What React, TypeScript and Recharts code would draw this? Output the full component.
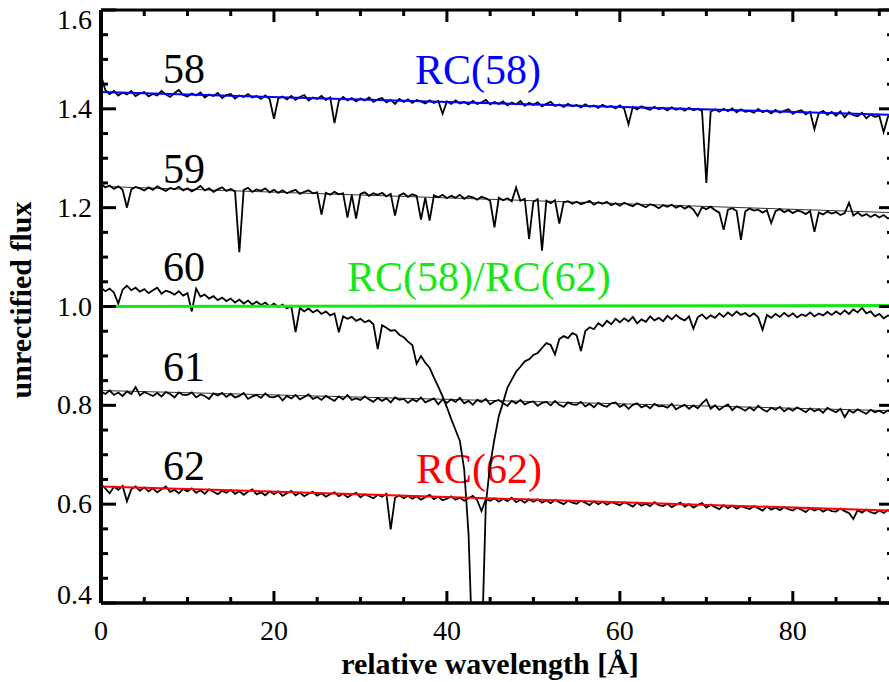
import React from 'react';
import { LineChart, Line, XAxis, YAxis } from 'recharts';

// spectra are sampled every 0.5 Å starting at 0
const STEP = 0.5;

const flux58 = [
  1.468, 1.438, 1.430, 1.436, 1.427, 1.433, 1.429, 1.436, 1.426, 1.431,
  1.434, 1.425, 1.430, 1.427, 1.436, 1.429, 1.424, 1.432, 1.438, 1.428,
  1.425, 1.431, 1.427, 1.433, 1.423, 1.429, 1.426, 1.432, 1.422, 1.428,
  1.430, 1.421, 1.427, 1.424, 1.430, 1.423, 1.426, 1.420, 1.427, 1.420,
  1.380, 1.421, 1.425, 1.419, 1.426, 1.418, 1.424, 1.428, 1.417, 1.423,
  1.420, 1.426, 1.418, 1.423, 1.371, 1.416, 1.424, 1.417, 1.422, 1.415,
  1.421, 1.417, 1.423, 1.414, 1.419, 1.422, 1.413, 1.418, 1.410, 1.420,
  1.414, 1.419, 1.412, 1.418, 1.415, 1.411, 1.417, 1.412, 1.416, 1.390,
  1.415, 1.410, 1.417, 1.411, 1.414, 1.409, 1.416, 1.410, 1.413, 1.418,
  1.409, 1.414, 1.410, 1.415, 1.407, 1.413, 1.409, 1.416, 1.406, 1.412,
  1.408, 1.413, 1.405, 1.410, 1.414, 1.406, 1.409, 1.404, 1.410, 1.405,
  1.408, 1.403, 1.409, 1.404, 1.407, 1.402, 1.408, 1.403, 1.406, 1.401,
  1.407, 1.400, 1.369, 1.404, 1.399, 1.405, 1.401, 1.398, 1.404, 1.399,
  1.402, 1.397, 1.403, 1.398, 1.401, 1.396, 1.402, 1.397, 1.400, 1.396,
  1.250, 1.394, 1.399, 1.394, 1.400, 1.395, 1.401, 1.393, 1.399, 1.394,
  1.396, 1.392, 1.400, 1.393, 1.397, 1.391, 1.398, 1.392, 1.396, 1.399,
  1.390, 1.395, 1.397, 1.389, 1.394, 1.359, 1.391, 1.396, 1.388, 1.394,
  1.386, 1.395, 1.383, 1.393, 1.387, 1.385, 1.392, 1.381, 1.388, 1.384,
  1.386, 1.353, 1.384, 1.389,
];

const flux59 = [
  1.249, 1.241, 1.245, 1.238, 1.243, 1.236, 1.200, 1.237, 1.242, 1.239,
  1.235, 1.241, 1.236, 1.243, 1.238, 1.234, 1.240, 1.237, 1.242, 1.235,
  1.239, 1.233, 1.238, 1.244, 1.235, 1.239, 1.232, 1.237, 1.241, 1.234,
  1.238, 1.233, 1.110, 1.236, 1.240, 1.232, 1.237, 1.234, 1.239, 1.231,
  1.236, 1.230, 1.235, 1.229, 1.233, 1.236, 1.228, 1.232, 1.235, 1.229,
  1.231, 1.186, 1.230, 1.226, 1.232, 1.227, 1.229, 1.180, 1.226, 1.178,
  1.228, 1.231, 1.224, 1.229, 1.226, 1.230, 1.223, 1.228, 1.184, 1.225,
  1.229, 1.222, 1.227, 1.224, 1.176, 1.220, 1.174, 1.225, 1.221, 1.226,
  1.219, 1.224, 1.220, 1.226, 1.218, 1.223, 1.221, 1.216, 1.222, 1.219,
  1.214, 1.160, 1.220, 1.215, 1.219, 1.213, 1.241, 1.214, 1.218, 1.137,
  1.212, 1.217, 1.113, 1.214, 1.209, 1.215, 1.168, 1.211, 1.213, 1.208,
  1.212, 1.207, 1.210, 1.214, 1.206, 1.211, 1.208, 1.212, 1.205, 1.209,
  1.204, 1.210, 1.206, 1.203, 1.209, 1.205, 1.201, 1.207, 1.204, 1.199,
  1.205, 1.202, 1.206, 1.200, 1.204, 1.198, 1.203, 1.196, 1.183, 1.201,
  1.197, 1.202, 1.195, 1.190, 1.155, 1.196, 1.199, 1.193, 1.135, 1.192,
  1.198, 1.194, 1.196, 1.190, 1.195, 1.169, 1.193, 1.197, 1.191, 1.195,
  1.189, 1.194, 1.192, 1.187, 1.193, 1.151, 1.190, 1.186, 1.192, 1.188,
  1.191, 1.185, 1.189, 1.210, 1.184, 1.190, 1.183, 1.187, 1.181, 1.186,
  1.180, 1.185, 1.178, 1.183,
];

const flux60 = [
  1.038, 1.031, 1.036, 1.028, 1.006, 1.034, 1.042, 1.033, 1.038, 1.030,
  1.035, 1.027, 1.033, 1.038, 1.026, 1.032, 1.029, 1.024, 1.031, 1.022,
  1.027, 0.990, 1.036, 1.020, 1.024, 1.016, 1.021, 1.013, 1.018, 1.011,
  1.016, 1.008, 1.014, 1.006, 1.012, 1.004, 1.010, 1.003, 1.008, 1.000,
  1.006, 0.999, 1.004, 0.996, 1.001, 0.948, 0.997, 0.990, 0.996, 0.988,
  0.993, 0.985, 0.990, 0.982, 0.986, 0.948, 0.980, 0.975, 0.979, 0.971,
  0.975, 0.968, 0.972, 0.964, 0.914, 0.962, 0.957, 0.951, 0.952, 0.943,
  0.938, 0.929, 0.922, 0.884, 0.900, 0.886, 0.876, 0.856, 0.838, 0.818,
  0.796, 0.772, 0.750, 0.728, 0.670, 0.540, 0.280, 0.200, 0.290, 0.600,
  0.680, 0.732, 0.778, 0.806, 0.836, 0.852, 0.868, 0.878, 0.889, 0.893,
  0.902, 0.906, 0.916, 0.926, 0.922, 0.903, 0.934, 0.940, 0.936, 0.946,
  0.942, 0.910, 0.950, 0.958, 0.954, 0.966, 0.960, 0.971, 0.964, 0.975,
  0.968, 0.976, 0.970, 0.979, 0.966, 0.974, 0.969, 0.980, 0.972, 0.977,
  0.970, 0.981, 0.974, 0.983, 0.976, 0.972, 0.980, 0.955, 0.978, 0.984,
  0.975, 0.982, 0.977, 0.986, 0.979, 0.988, 0.981, 0.990, 0.983, 0.987,
  0.980, 0.986, 0.978, 0.953, 0.983, 0.977, 0.985, 0.979, 0.987, 0.980,
  0.986, 0.978, 0.984, 0.981, 0.988, 0.980, 0.986, 0.982, 0.989, 0.983,
  0.990, 0.984, 0.992, 0.985, 0.994, 0.988, 0.997, 0.986, 0.990, 0.980,
  0.985, 0.976, 0.982, 0.979,
];

const flux61 = [
  0.828, 0.823, 0.830, 0.821, 0.826, 0.819, 0.828, 0.823, 0.837, 0.820,
  0.827, 0.823, 0.819, 0.825, 0.818, 0.827, 0.823, 0.816, 0.826, 0.821,
  0.821, 0.826, 0.816, 0.822, 0.819, 0.813, 0.824, 0.820, 0.825, 0.817,
  0.823, 0.816, 0.819, 0.825, 0.813, 0.818, 0.821, 0.815, 0.824, 0.817,
  0.816, 0.820, 0.810, 0.819, 0.814, 0.821, 0.812, 0.817, 0.822, 0.813,
  0.817, 0.811, 0.819, 0.814, 0.809, 0.818, 0.812, 0.821, 0.811, 0.814,
  0.811, 0.818, 0.812, 0.807, 0.815, 0.809, 0.814, 0.806, 0.816, 0.811,
  0.813, 0.805, 0.812, 0.808, 0.816, 0.806, 0.810, 0.814, 0.802, 0.812,
  0.805, 0.812, 0.807, 0.815, 0.804, 0.809, 0.801, 0.811, 0.807, 0.813,
  0.802, 0.808, 0.811, 0.804, 0.799, 0.809, 0.804, 0.811, 0.802, 0.806,
  0.808, 0.799, 0.805, 0.807, 0.800, 0.809, 0.801, 0.797, 0.806, 0.802,
  0.801, 0.807, 0.798, 0.803, 0.796, 0.805, 0.800, 0.797, 0.804, 0.806,
  0.797, 0.802, 0.793, 0.801, 0.804, 0.796, 0.800, 0.794, 0.803, 0.798,
  0.799, 0.795, 0.803, 0.792, 0.797, 0.801, 0.793, 0.800, 0.794, 0.804,
  0.812, 0.793, 0.800, 0.791, 0.797, 0.802, 0.790, 0.798, 0.794, 0.789,
  0.796, 0.790, 0.799, 0.792, 0.787, 0.795, 0.791, 0.797, 0.788, 0.794,
  0.789, 0.796, 0.791, 0.786, 0.794, 0.788, 0.792, 0.785, 0.795, 0.790,
  0.786, 0.793, 0.776, 0.790, 0.785, 0.792, 0.787, 0.783, 0.791, 0.786,
  0.789, 0.784, 0.790, 0.783,
];

const flux62 = [
  0.640, 0.632, 0.622, 0.635, 0.629, 0.637, 0.606, 0.630, 0.636, 0.627,
  0.634, 0.626, 0.632, 0.624, 0.630, 0.636, 0.625, 0.629, 0.622, 0.631,
  0.626, 0.632, 0.623, 0.628, 0.621, 0.630, 0.625, 0.620, 0.627, 0.623,
  0.629, 0.621, 0.626, 0.619, 0.625, 0.630, 0.620, 0.624, 0.618, 0.626,
  0.620, 0.626, 0.617, 0.622, 0.627, 0.618, 0.623, 0.616, 0.621, 0.625,
  0.617, 0.622, 0.615, 0.620, 0.624, 0.616, 0.621, 0.614, 0.619, 0.623,
  0.614, 0.620, 0.616, 0.612, 0.619, 0.615, 0.621, 0.549, 0.613, 0.618,
  0.612, 0.617, 0.611, 0.616, 0.609, 0.614, 0.619, 0.610, 0.615, 0.608,
  0.611, 0.616, 0.609, 0.613, 0.607, 0.612, 0.617, 0.608, 0.586, 0.610,
  0.607, 0.612, 0.605, 0.611, 0.606, 0.613, 0.604, 0.609, 0.603, 0.610,
  0.605, 0.610, 0.603, 0.608, 0.602, 0.609, 0.604, 0.600, 0.607, 0.603,
  0.601, 0.607, 0.603, 0.598, 0.606, 0.600, 0.605, 0.599, 0.604, 0.601,
  0.598, 0.604, 0.600, 0.595, 0.603, 0.597, 0.601, 0.596, 0.604, 0.598,
  0.596, 0.601, 0.594, 0.599, 0.603, 0.595, 0.600, 0.593, 0.598, 0.602,
  0.593, 0.599, 0.594, 0.590, 0.598, 0.592, 0.597, 0.591, 0.596, 0.593,
  0.590, 0.596, 0.592, 0.587, 0.595, 0.589, 0.593, 0.588, 0.594, 0.590,
  0.587, 0.593, 0.589, 0.584, 0.592, 0.587, 0.591, 0.585, 0.590, 0.586,
  0.585, 0.591, 0.586, 0.582, 0.570, 0.588, 0.583, 0.589, 0.584, 0.581,
  0.587, 0.582, 0.588, 0.583,
];

// continuum fits, given at the two ends of the range
const fitX = [0, 91.5];
const rc58 = [1.434, 1.388];
const fit59 = [1.243, 1.190];
const ratio = [1.000, 1.002];
const fit61 = [0.830, 0.789];
const rc62 = [0.636, 0.587];

const xTicks = [0, 5, 10, 15, 20, 25, 30, 35, 40, 45, 50, 55, 60, 65, 70, 75, 80, 85, 90];
const yTicks = [
  0.4, 0.45, 0.5, 0.55, 0.6, 0.65, 0.7, 0.75, 0.8, 0.85, 0.9, 0.95, 1.0,
  1.05, 1.1, 1.15, 1.2, 1.25, 1.3, 1.35, 1.4, 1.45, 1.5, 1.55, 1.6,
];

const SERIF = '"Liberation Serif", "Times New Roman", serif';
const tickFont = { fontFamily: SERIF, fontSize: 28, fontWeight: 400 };

const spectrum = (ys: number[]) => ys.map((y, i) => ({ x: i * STEP, y }));
const fitLine = (ys: number[]) => ys.map((y, i) => ({ x: fitX[i], y }));

const isMajorY = (v: number) => Math.abs(v * 5 - Math.round(v * 5)) < 1e-6;

const BottomTick = (props: any) => {
  const { x, y, payload } = props;
  const major = payload.value % 20 === 0;
  return (
    <g>
      <line x1={x} x2={x} y1={y} y2={y - (major ? 12 : 6)} stroke="#000" strokeWidth={3} />
      {major && (
        <text x={x} y={y + 37} textAnchor="middle" style={tickFont} fill="#000">
          {payload.value}
        </text>
      )}
    </g>
  );
};

const TopTick = (props: any) => {
  const { x, y, payload } = props;
  const major = payload.value % 20 === 0;
  return <line x1={x} x2={x} y1={y} y2={y + (major ? 12 : 6)} stroke="#000" strokeWidth={3} />;
};

const LeftTick = (props: any) => {
  const { x, y, payload } = props;
  const v = payload.value as number;
  const major = isMajorY(v);
  // end labels sit inside the frame
  const dy = v >= 1.6 ? 19 : v <= 0.4 ? 1 : 9;
  return (
    <g>
      <line x1={x} x2={x + (major ? 15 : 7)} y1={y} y2={y} stroke="#000" strokeWidth={3} />
      {major && (
        <text x={x - 9} y={y + dy} textAnchor="end" style={tickFont} fill="#000">
          {v.toFixed(1)}
        </text>
      )}
    </g>
  );
};

const RightTick = (props: any) => {
  const { x, y, payload } = props;
  const major = isMajorY(payload.value);
  return <line x1={x} x2={x - (major ? 15 : 7)} y1={y} y2={y} stroke="#000" strokeWidth={3} />;
};

const label = { fontFamily: SERIF, fontSize: 42 };

export default function App() {
  return (
    <div style={{ position: 'absolute', left: 0, top: 0, width: 889, height: 682, overflow: 'hidden', background: '#fff' }}>
      <LineChart width={897} height={682} margin={{ top: 9, right: 2, bottom: 39, left: 41 }}>
        <XAxis dataKey="x" type="number" domain={[0, 91.7]} allowDataOverflow ticks={xTicks} interval={0}
          height={40} tickSize={0} tickMargin={0} tickLine={false} tick={<BottomTick />}
          axisLine={{ stroke: '#000', strokeWidth: 3.5 }} />
        <XAxis xAxisId="top" orientation="top" dataKey="x" type="number" domain={[0, 91.7]} allowDataOverflow
          ticks={xTicks} interval={0} height={1} tickSize={0} tickMargin={0} tickLine={false} tick={<TopTick />}
          axisLine={{ stroke: '#000', strokeWidth: 3 }} />
        <YAxis type="number" domain={[0.4, 1.6]} allowDataOverflow ticks={yTicks} interval={0}
          width={60} tickSize={0} tickMargin={0} tickLine={false} tick={<LeftTick />}
          axisLine={{ stroke: '#000', strokeWidth: 4 }} />
        <YAxis yAxisId="right" orientation="right" type="number" domain={[0.4, 1.6]} allowDataOverflow
          ticks={yTicks} interval={0} width={1} tickSize={0} tickMargin={0} tickLine={false} tick={<RightTick />}
          axisLine={{ stroke: '#000', strokeWidth: 3 }} />

        {/* thin continuum fits under spectra 59 and 61 */}
        <Line data={fitLine(fit59)} dataKey="y" type="linear" stroke="#333" strokeWidth={1} dot={false} isAnimationActive={false} />
        <Line data={fitLine(fit61)} dataKey="y" type="linear" stroke="#333" strokeWidth={1} dot={false} isAnimationActive={false} />

        {[flux58, flux59, flux60, flux61, flux62].map((f, k) => (
          <Line key={k} data={spectrum(f)} dataKey="y" type="linear" stroke="#000" strokeWidth={1.8}
            dot={false} isAnimationActive={false} />
        ))}

        <Line data={fitLine(ratio)} dataKey="y" type="linear" stroke="#16e816" strokeWidth={3} dot={false} isAnimationActive={false} />
        <Line data={fitLine(rc58)} dataKey="y" type="linear" stroke="#0000ff" strokeWidth={2} dot={false} isAnimationActive={false} />
        <Line data={fitLine(rc62)} dataKey="y" type="linear" stroke="#ff0000" strokeWidth={2} dot={false} isAnimationActive={false} />

        <text x={163} y={83} {...label} fill="#000">58</text>
        <text x={163} y={183} {...label} fill="#000">59</text>
        <text x={163} y={281} {...label} fill="#000">60</text>
        <text x={163} y={381} {...label} fill="#000">61</text>
        <text x={163} y={480} {...label} fill="#000">62</text>
        <text x={415} y={84} {...label} fill="#0000ff">RC(58)</text>
        <text x={347} y={291} {...label} fill="#16e816">RC(58)/RC(62)</text>
        <text x={416} y={483} {...label} fill="#ff0000">RC(62)</text>

        <text x={490} y={674} textAnchor="middle" fontFamily={SERIF} fontSize={30} fontWeight="bold" fill="#000">
          relative wavelength [Å]
        </text>
        <text x={31} y={300} transform="rotate(-90, 31, 300)" textAnchor="middle" fontFamily={SERIF}
          fontSize={30} fontWeight="bold" fill="#000">
          unrectified flux
        </text>
      </LineChart>
    </div>
  );
}
